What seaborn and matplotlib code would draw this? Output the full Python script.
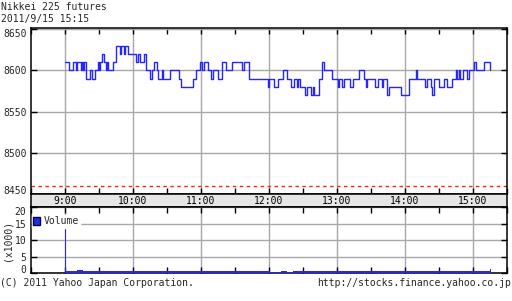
import matplotlib
matplotlib.use("Agg")
import matplotlib.pyplot as plt
from matplotlib.patches import Patch
import seaborn as sns
import pandas as pd

# ---------------- data ----------------
title = "Nikkei 225 futures"
stamp = "2011/9/15 15:15"
footer_left = "(C) 2011 Yahoo Japan Corporation."
footer_right = "http://stocks.finance.yahoo.co.jp"

price_times = ["9:00", "9:04", "9:07", "9:10", "9:11", "9:14", "9:15", "9:16", "9:17", "9:19",
               "9:22", "9:24", "9:27", "9:29", "9:30", "9:31", "9:33", "9:35", "9:36", "9:37",
               "9:38", "9:43", "9:45", "9:49", "9:50", "9:52", "9:53", "9:56", "10:03", "10:05",
               "10:06", "10:10", "10:12", "10:15", "10:17", "10:19", "10:21", "10:22", "10:26", "10:27",
               "10:33", "10:41", "10:43", "10:53", "10:56", "10:59", "11:01", "11:03", "11:06", "11:09",
               "11:11", "11:15", "11:19", "11:22", "11:28", "11:36", "11:38", "11:43", "11:59", "12:00",
               "12:05", "12:08", "12:13", "12:16", "12:20", "12:22", "12:25", "12:26", "12:28", "12:32",
               "12:34", "12:37", "12:39", "12:40", "12:44", "12:47", "12:49", "12:56", "13:01", "13:02",
               "13:05", "13:06", "13:12", "13:14", "13:20", "13:24", "13:26", "13:27", "13:34", "13:36",
               "13:40", "13:41", "13:44", "13:46", "13:57", "14:04", "14:10", "14:11", "14:18", "14:20",
               "14:23", "14:24", "14:26", "14:30", "14:35", "14:37", "14:42", "14:45", "14:46", "14:48",
               "14:49", "14:51", "14:55", "14:57", "15:01", "15:03", "15:10", "15:15"]
prices = [8610, 8600, 8610, 8600, 8610, 8600, 8610, 8600, 8610, 8590,
          8600, 8590, 8600, 8610, 8600, 8610, 8620, 8610, 8600, 8610,
          8600, 8610, 8630, 8620, 8630, 8620, 8630, 8620, 8610, 8620,
          8610, 8620, 8600, 8590, 8600, 8610, 8600, 8590, 8600, 8590,
          8600, 8590, 8580, 8590, 8600, 8610, 8600, 8610, 8600, 8590,
          8600, 8590, 8610, 8600, 8610, 8600, 8610, 8590, 8580, 8590,
          8580, 8590, 8600, 8590, 8580, 8590, 8580, 8590, 8580, 8570,
          8580, 8570, 8580, 8570, 8590, 8610, 8600, 8590, 8580, 8590,
          8580, 8590, 8580, 8590, 8600, 8590, 8580, 8590, 8580, 8590,
          8580, 8590, 8570, 8580, 8570, 8590, 8600, 8590, 8580, 8590,
          8580, 8570, 8590, 8580, 8590, 8580, 8590, 8600, 8590, 8600,
          8590, 8600, 8590, 8600, 8610, 8600, 8610, 8600]
ref_price = 8460

# volume (x1000): 5-minute buckets starting 9:01, plus the two single-minute spikes
volumes = [0.7, 0.6, 0.9, 0.7, 0.6, 0.7, 0.7, 0.8, 0.7, 0.6, 0.7, 0.7,
           0.8, 0.7, 0.7, 0.6, 0.6, 0.7, 0.7, 0.6, 0.6, 0.7, 0.6, 0.6,
           0.6, 0.7, 0.6, 0.6, 0.7, 0.6, 0.6, 0.6, 0.7, 0.6, 0.7, 0.6,
           0.5, 0.5, 0.6, 0.5, 0.6, 0.7, 0.8, 0.7, 0.6, 0.7, 0.7, 0.6,
           0.6, 0.6, 0.7, 0.6, 0.6, 0.7, 0.7, 0.6, 0.7, 0.6, 0.6, 0.6,
           0.6, 0.7, 0.7, 0.7, 0.6, 0.6, 0.7, 0.7, 0.6, 0.7, 0.6, 0.7,
           0.6, 0.6, 0.6]
spike_times = ["9:00", "15:15"]
spike_vols = [15.0, 1.4]

hour_labels = ["9:00", "10:00", "11:00", "12:00", "13:00", "14:00", "15:00"]
half_hours = ["8:30", "9:30", "10:30", "11:30", "12:30", "13:30", "14:30", "15:30"]
price_ticks = [8450, 8500, 8550, 8600, 8650]
vol_ticks = [0, 5, 10, 15, 20]
x_range = ["8:30", "15:30"]


def to_min(s):
    h, m = s.split(":")
    return int(h) * 60 + int(m)


# ---------------- style ----------------
sns.set_theme(style="white")
plt.rcParams['font.family'] = ['DejaVu Sans Mono', 'DejaVu Sans']
FS = 7.0
BLUE = "#2525ff"
GRID = "#a8a8a8"

fig = plt.figure(figsize=(5.12, 3.01), dpi=100)
fig.patch.set_facecolor("white")
W, H = 512, 301


def rect(l, t, r, b):
    return [l / W, 1 - b / H, (r - l) / W, (b - t) / H]


axp = fig.add_axes(rect(30.7, 28.3, 506.7, 194.0))
axb = fig.add_axes(rect(30.7, 194.0, 506.7, 207.3))
axv = fig.add_axes(rect(30.7, 207.3, 506.7, 273.3))

xlim = (to_min(x_range[0]), to_min(x_range[1]))
hours = [to_min(h) for h in hour_labels]
halves = [to_min(h) for h in half_hours]


def clamp_edge_labels(ax):
    labs = ax.get_yticklabels()
    labs[0].set_verticalalignment("baseline")
    labs[-1].set_verticalalignment("top")


# ---------------- price panel ----------------
df = pd.DataFrame({"t": [to_min(t) for t in price_times], "price": prices})
sns.lineplot(data=df, x="t", y="price", ax=axp, drawstyle="steps-post",
             color=BLUE, lw=1.0, estimator=None, sort=False, zorder=3)
axp.axhline(ref_price, color="#ff2020", lw=1.0, ls=(0, (2.5, 2.5)), zorder=2)
axp.set_xlim(*xlim)
axp.set_ylim(8450, 8651)
axp.set_yticks(price_ticks)
axp.set_yticklabels([str(v) for v in price_ticks], fontsize=FS)
clamp_edge_labels(axp)
axp.set_xticks(hours)
axp.set_xticks(halves, minor=True)
axp.set_xticklabels([])
axp.set_xlabel("")
axp.set_ylabel("")
axp.grid(True, which="major", color=GRID, lw=1.0)
axp.tick_params(axis="both", which="both", direction="in", top=True, bottom=True,
                left=True, right=True, length=4, width=1.0, color="black", pad=3,
                labelbottom=False)

# ---------------- time band ----------------
axb.set_facecolor("#e6e6e6")
axb.set_xlim(*xlim)
axb.set_ylim(0, 1)
axb.set_xticks([])
axb.set_yticks([])
for m, lab in zip(hours, hour_labels):
    axb.text(m, 0.45, lab, ha="center", va="center", fontsize=FS, color="black")

# ---------------- volume panel ----------------
bucket_starts = [to_min("9:01") + 5 * i for i in range(len(volumes))]
axv.bar(bucket_starts, volumes, width=5, align="edge", color=BLUE, lw=0, zorder=3)
axv.bar([to_min(t) for t in spike_times], spike_vols, width=0.9, align="edge",
        color=BLUE, lw=0, zorder=3)
axv.set_xlim(*xlim)
axv.set_ylim(0, 20)
axv.set_yticks(vol_ticks)
axv.set_yticklabels([str(v) for v in vol_ticks], fontsize=FS)
clamp_edge_labels(axv)
axv.set_xticks(hours)
axv.set_xticks(halves, minor=True)
axv.set_xticklabels([])
axv.grid(True, which="major", color=GRID, lw=1.0)
axv.tick_params(axis="both", which="both", direction="in", top=True, bottom=True,
                left=True, right=True, length=4, width=1.0, color="black", pad=3,
                labelbottom=False)
leg = axv.legend(handles=[Patch(facecolor="#2030e0", edgecolor="#000050", label="Volume")],
                 loc="upper left", bbox_to_anchor=(0.0, 0.90), frameon=True,
                 fontsize=FS, handlelength=0.75, handleheight=0.75,
                 handletextpad=0.3, borderpad=0.15, borderaxespad=0.1)
leg.get_frame().set_facecolor("white")
leg.get_frame().set_edgecolor("white")
leg.get_frame().set_alpha(1.0)
leg.get_frame().set_boxstyle("square", pad=0.0)
leg.set_zorder(5)

for ax in (axp, axb, axv):
    for sp in ax.spines.values():
        sp.set_color("black")
        sp.set_linewidth(1.1)
        sp.set_visible(True)

# ---------------- texts ----------------
fig.text(1 / W, 1 - 7 / H, title, ha="left", va="center", fontsize=FS)
fig.text(1 / W, 1 - 19 / H, stamp, ha="left", va="center", fontsize=FS)
fig.text(0 / W, 1 - 283 / H, footer_left, ha="left", va="center", fontsize=FS)
fig.text(511 / W, 1 - 283 / H, footer_right, ha="right", va="center", fontsize=FS)
fig.text(7 / W, 1 - 240 / H, "(x1000)", ha="center", va="center", rotation=90, fontsize=FS)

fig.savefig("out.png", dpi=100, facecolor="white")
